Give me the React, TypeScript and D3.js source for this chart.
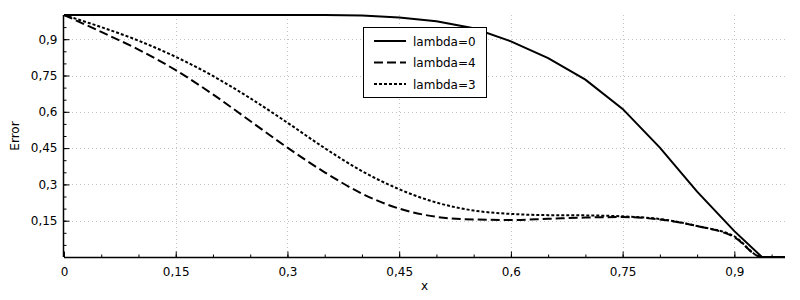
import React, { useEffect, useRef } from 'react';
import * as d3 from 'd3';

// sample positions shared by all three series
const xValues = [0, 0.05, 0.1, 0.15, 0.2, 0.25, 0.3, 0.35, 0.4, 0.45, 0.5, 0.55, 0.6, 0.65, 0.7, 0.75, 0.8, 0.85, 0.9, 0.937, 0.968];

const lambda0 = [1.0, 1.0, 1.0, 1.0, 1.0, 1.0, 1.0, 1.0, 0.998, 0.99, 0.974, 0.945, 0.891, 0.822, 0.733, 0.612, 0.452, 0.27, 0.107, 0.0, 0.0];
const lambda4 = [1.0, 0.93, 0.857, 0.772, 0.672, 0.562, 0.452, 0.35, 0.262, 0.2, 0.166, 0.155, 0.153, 0.158, 0.163, 0.165, 0.155, 0.128, 0.082, 0.0, 0.0];
const lambda3 = [1.0, 0.95, 0.894, 0.827, 0.748, 0.656, 0.555, 0.45, 0.355, 0.28, 0.225, 0.192, 0.178, 0.173, 0.172, 0.168, 0.157, 0.128, 0.085, 0.0, 0.0];

const seriesNames = ['lambda=0', 'lambda=4', 'lambda=3'];
const xTicks = [0, 0.15, 0.3, 0.45, 0.6, 0.75, 0.9];
const yTicks = [0.15, 0.3, 0.45, 0.6, 0.75, 0.9];

const fmt = (v: number) => String(+v.toFixed(2)).replace('.', ',');

export default function App() {
    const svgRef = useRef<SVGSVGElement>(null);

    useEffect(() => {
        const svg = d3.select(svgRef.current);
        svg.selectAll('*').remove();

        const left = 64, right = 785, top = 15, bottom = 257;
        const x = d3.scaleLinear().domain([0, 0.968]).range([left, right]);
        const y = d3.scaleLinear().domain([0, 1]).range([bottom, top]);
        const font = 'DejaVu Sans, sans-serif';

        // dotted grid
        const grid = svg.append('g').attr('stroke', '#c4c4c4').attr('stroke-dasharray', '1,3');
        xTicks.filter(t => t > 0).forEach(t => {
            grid.append('line')
                .attr('x1', Math.round(x(t)) + 0.5).attr('x2', Math.round(x(t)) + 0.5)
                .attr('y1', top).attr('y2', bottom);
        });
        yTicks.forEach(t => {
            grid.append('line')
                .attr('y1', Math.round(y(t)) + 0.5).attr('y2', Math.round(y(t)) + 0.5)
                .attr('x1', left).attr('x2', right);
        });

        // axes with ticks pointing inward
        const xAxis = svg.append('g').attr('transform', `translate(0,${bottom + 0.5})`)
            .call(d3.axisBottom(x).tickValues(d3.range(0, 0.97, 0.05)).tickSize(-3).tickFormat(() => ''));
        xAxis.select('.domain').attr('d', `M${left},0H${right}`);
        svg.append('g').attr('transform', `translate(0,${bottom + 0.5})`)
            .call(d3.axisBottom(x).tickValues(xTicks).tickSize(-6).tickPadding(10).tickFormat(d => fmt(+d)))
            .call(g => g.select('.domain').remove())
            .selectAll('text').attr('font-family', font).attr('font-size', 12).attr('fill', '#000');

        const yAxis = svg.append('g').attr('transform', `translate(${left - 0.5},0)`)
            .call(d3.axisLeft(y).tickValues(d3.range(0.05, 1.0, 0.05)).tickSize(-3).tickFormat(() => ''));
        yAxis.select('.domain').attr('d', `M0,${top}V${bottom}`);
        svg.append('g').attr('transform', `translate(${left - 0.5},0)`)
            .call(d3.axisLeft(y).tickValues(yTicks).tickSize(-6).tickPadding(6).tickFormat(d => fmt(+d)))
            .call(g => g.select('.domain').remove())
            .selectAll('text').attr('font-family', font).attr('font-size', 12).attr('fill', '#000');

        svg.selectAll('.tick line').attr('stroke', '#000');
        svg.selectAll('.domain').attr('stroke', '#000').attr('stroke-width', 1.5);

        // axis titles
        svg.append('text').attr('x', (left + right) / 2).attr('y', 290)
            .attr('text-anchor', 'middle').attr('font-family', font).attr('font-size', 12).text('x');
        svg.append('text').attr('transform', `translate(19,${(top + bottom) / 2}) rotate(-90)`)
            .attr('text-anchor', 'middle').attr('font-family', font).attr('font-size', 12).text('Error');

        // curves
        const dashes = [null, '9,4', '3,2'];
        const series = [lambda0, lambda4, lambda3];
        series.forEach((s, i) => {
            const line = d3.line<number>()
                .x((_, j) => x(xValues[j]))
                .y(d => y(d))
                .curve(i === 0 ? d3.curveLinear : d3.curveMonotoneX);
            svg.append('path').datum(s)
                .attr('fill', 'none').attr('stroke', '#000').attr('stroke-width', 2)
                .attr('stroke-dasharray', dashes[i])
                .attr('d', line);
        });

        // legend
        const lg = svg.append('g');
        lg.append('rect').attr('x', 363.5).attr('y', 27.5).attr('width', 123).attr('height', 70)
            .attr('fill', '#fff').attr('stroke', '#000');
        seriesNames.forEach((name, i) => {
            const cy = 41 + i * 21.5;
            lg.append('line').attr('x1', 374).attr('x2', 406).attr('y1', cy).attr('y2', cy)
                .attr('stroke', '#000').attr('stroke-width', 2).attr('stroke-dasharray', dashes[i]);
            lg.append('text').attr('x', 413).attr('y', cy + 4.5)
                .attr('font-family', font).attr('font-size', 12).text(name);
        });
    }, []);

    return (
        <div style={{ position: 'absolute', left: 0, top: 0 }}>
            <svg ref={svgRef} width={800} height={300} style={{ display: 'block', background: '#fff' }} />
        </div>
    );
}
